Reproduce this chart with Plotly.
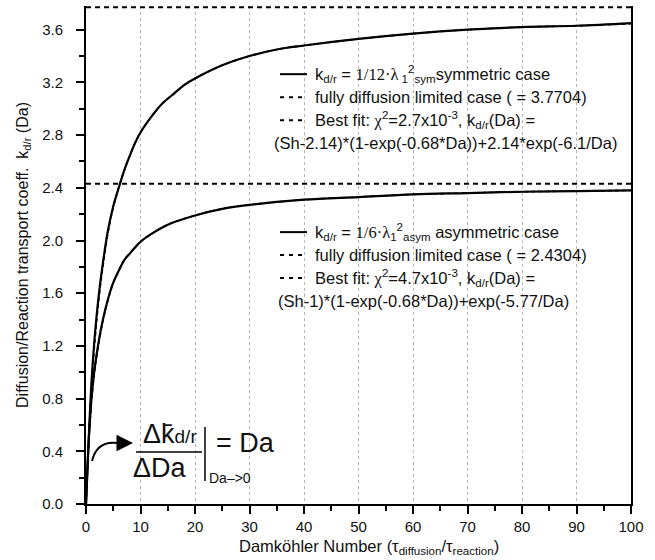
import plotly.graph_objects as go

# ---- data ----
da_sym = [0, 0.2, 0.5, 1, 1.5, 2, 2.5, 3, 4, 5, 6, 7, 8, 9, 10, 12, 14, 16, 18, 20,
          25, 30, 35, 40, 50, 60, 70, 80, 90, 100]
k_sym = [0, 0.2, 0.5, 0.92, 1.22, 1.45, 1.64, 1.80, 2.07, 2.26, 2.40, 2.53, 2.64, 2.74,
         2.82, 2.94, 3.04, 3.11, 3.18, 3.23, 3.33, 3.40, 3.45, 3.48, 3.53, 3.57, 3.60,
         3.62, 3.63, 3.65]
fit_sym = [0, 0.21, 0.49, 0.88, 1.17, 1.41, 1.61, 1.77, 2.05, 2.25, 2.40, 2.53, 2.64, 2.74,
           2.82, 2.94, 3.04, 3.11, 3.18, 3.23, 3.33, 3.40, 3.45, 3.48, 3.53, 3.57, 3.60,
           3.62, 3.63, 3.645]

da_asym = [0, 0.2, 0.5, 1, 1.5, 2, 3, 4, 5, 6, 7, 8, 10, 12, 15, 20, 25, 30, 40, 50,
           60, 70, 80, 90, 100]
k_asym = [0, 0.2, 0.48, 0.8, 1.0, 1.15, 1.38, 1.55, 1.68, 1.77, 1.85, 1.90, 1.99, 2.05,
          2.12, 2.19, 2.24, 2.27, 2.31, 2.33, 2.35, 2.36, 2.37, 2.375, 2.38]
fit_asym = [0, 0.2, 0.46, 0.77, 0.98, 1.13, 1.37, 1.54, 1.68, 1.77, 1.85, 1.90, 1.99, 2.05,
            2.12, 2.19, 2.24, 2.27, 2.31, 2.33, 2.35, 2.36, 2.37, 2.375, 2.38]

sh_sym = 3.7704
sh_asym = 2.4304
limit_x = [0, 100]

x_ticks = [0, 10, 20, 30, 40, 50, 60, 70, 80, 90, 100]
y_ticks = [0.0, 0.4, 0.8, 1.2, 1.6, 2.0, 2.4, 2.8, 3.2, 3.6]

FONT = "Liberation Sans, Arial, sans-serif"
SERIF = "Liberation Serif"
BLK = "black"
TXT = "#111"
LEG_SIZE = 16.5

fig = go.Figure()

for xs, ys in [(da_sym, fit_sym), (da_asym, fit_asym)]:
    fig.add_trace(go.Scatter(x=xs, y=ys, mode="lines", line_shape="spline",
                             line=dict(color=BLK, width=1.6, dash="4px,3px"),
                             showlegend=False, hoverinfo="skip"))
for sh in [sh_sym, sh_asym]:
    fig.add_trace(go.Scatter(x=limit_x, y=[sh, sh], mode="lines",
                             line=dict(color=BLK, width=2, dash="5px,4px"),
                             showlegend=False, hoverinfo="skip"))
for xs, ys in [(da_sym, k_sym), (da_asym, k_asym)]:
    fig.add_trace(go.Scatter(x=xs, y=ys, mode="lines", line_shape="spline",
                             line=dict(color=BLK, width=2.2),
                             showlegend=False, hoverinfo="skip"))

fig.update_layout(
    width=655, height=560,
    margin=dict(l=86, r=24, t=6, b=56),
    paper_bgcolor="white", plot_bgcolor="white",
    font=dict(family=FONT, size=15, color=TXT),
    showlegend=False,
)

fig.update_xaxes(
    range=[0, 100], tickvals=x_ticks, ticks="outside", ticklen=8, tickwidth=1.5,
    tickcolor=BLK, showline=True, linecolor=BLK, linewidth=2, zeroline=False,
    showgrid=True, gridcolor="#b4b4b4", gridwidth=1, griddash="dot",
    minor=dict(dtick=5, ticks="outside", ticklen=5, tickwidth=1.5, tickcolor=BLK, showgrid=False),
    tickfont=dict(size=15, family=FONT, color=TXT),
)
fig.update_yaxes(
    range=[0, 3.78], tickvals=y_ticks, tickformat=".1f", ticks="outside", ticklen=8,
    tickwidth=1.5, tickcolor=BLK, showline=True, linecolor=BLK, linewidth=2, mirror=True,
    zeroline=False, showgrid=True, gridcolor="#cccccc", gridwidth=1, griddash="1px,108px",
    minor=dict(dtick=0.2, ticks="outside", ticklen=5, tickwidth=1.5, tickcolor=BLK, showgrid=False),
    tickfont=dict(size=15, family=FONT, color=TXT), ticklabelstandoff=10,
    title=dict(text="Diffusion/Reaction transport coeff.  k<sub>d/r</sub> (Da)",
               font=dict(size=16, family=FONT, color=TXT), standoff=10),
)

# x-axis title (placed slightly right of centre, as in the reference)
fig.add_annotation(x=(369 - 86) / 545, y=(504 - 547) / 498, xref="paper", yref="paper",
                   text="Damköhler Number (τ<sub>diffusion</sub>/τ<sub>reaction</sub>)",
                   showarrow=False, xanchor="center", yanchor="middle",
                   font=dict(size=16.5, family=FONT, color=TXT))

# ---- custom legends ----
def px2x(px):
    return (px - 86) / 5.45

def py2y(py):
    return (504 - py) / 131.8

def legend_block(top_py, step, lines, last_text, last_x):
    for i, (style, text) in enumerate(lines):
        yy = py2y(top_py + step * i)
        dash = "solid" if style == "solid" else "4px,5px"
        fig.add_shape(type="line", xref="x", yref="y", x0=px2x(280), x1=px2x(307),
                      y0=yy, y1=yy, line=dict(color=BLK, width=2, dash=dash))
        fig.add_annotation(x=px2x(313), y=yy, xref="x", yref="y", text=text,
                           showarrow=False, xanchor="left", yanchor="middle",
                           font=dict(size=LEG_SIZE, family=FONT, color=TXT))
    fig.add_annotation(x=px2x(last_x), y=py2y(top_py + step * len(lines)), xref="x", yref="y",
                       text=last_text, showarrow=False, xanchor="left", yanchor="middle",
                       font=dict(size=LEG_SIZE, family=FONT, color=TXT))

legend_block(74, 23, [
    ("solid", f"k<sub>d/r</sub> = <span style='font-family:{SERIF}'>1/12·λ</span><sub> 1</sub><sup>2</sup><sub>sym</sub>symmetric case"),
    ("dash", "fully diffusion limited case ( = 3.7704)"),
    ("dash", f"Best fit: <span style='font-family:{SERIF}'>χ</span><sup>2</sup>=2.7x10<sup>-3</sup>, k<sub>d/r</sub>(Da) ="),
], "(Sh-2.14)*(1-exp(-0.68*Da))+2.14*exp(-6.1/Da)", 272)

legend_block(232, 23, [
    ("solid", f"k<sub>d/r</sub> = <span style='font-family:{SERIF}'>1/6·λ</span><sub>1</sub><sup>2</sup><sub>asym</sub> asymmetric case"),
    ("dash", "fully diffusion limited case ( = 2.4304)"),
    ("dash", f"Best fit: <span style='font-family:{SERIF}'>χ</span><sup>2</sup>=4.7x10<sup>-3</sup>, k<sub>d/r</sub>(Da) ="),
], "(Sh-1)*(1-exp(-0.68*Da))+exp(-5.77/Da)", 276)

# ---- small-Da slope annotation ----
fig.add_shape(type="path", xref="x", yref="y",
              path=f"M {px2x(92)},{py2y(461)} Q {px2x(97)},{py2y(440)} {px2x(118)},{py2y(443)}",
              line=dict(color=BLK, width=2))
fig.add_annotation(x=px2x(133), y=py2y(443), ax=px2x(117), ay=py2y(443),
                   xref="x", yref="y", axref="x", ayref="y", text="", showarrow=True,
                   arrowhead=2, arrowsize=1.5, arrowwidth=2.2, arrowcolor=BLK)
fig.add_annotation(x=px2x(170), y=py2y(434), xref="x", yref="y",
                   text="Δk̄<span style='font-size:19px'>d/r</span>", showarrow=False,
                   xanchor="center", yanchor="middle", font=dict(size=27, family=FONT, color=TXT))
fig.add_shape(type="line", xref="x", yref="y", x0=px2x(136), x1=px2x(202),
              y0=py2y(452), y1=py2y(452), line=dict(color=BLK, width=1.5))
fig.add_annotation(x=px2x(160), y=py2y(468), xref="x", yref="y", text="ΔDa",
                   showarrow=False, xanchor="center", yanchor="middle",
                   font=dict(size=27, family=FONT, color=TXT))
fig.add_shape(type="line", xref="x", yref="y", x0=px2x(205), x1=px2x(205),
              y0=py2y(427), y1=py2y(481), line=dict(color=BLK, width=1.5))
fig.add_annotation(x=px2x(207), y=py2y(478), xref="x", yref="y", text="Da–>0",
                   showarrow=False, xanchor="left", yanchor="middle",
                   font=dict(size=14, family=FONT, color=TXT))
fig.add_annotation(x=px2x(214), y=py2y(443), xref="x", yref="y", text="= Da",
                   showarrow=False, xanchor="left", yanchor="middle",
                   font=dict(size=27, family=FONT, color=TXT))

fig.write_html("out.html")
